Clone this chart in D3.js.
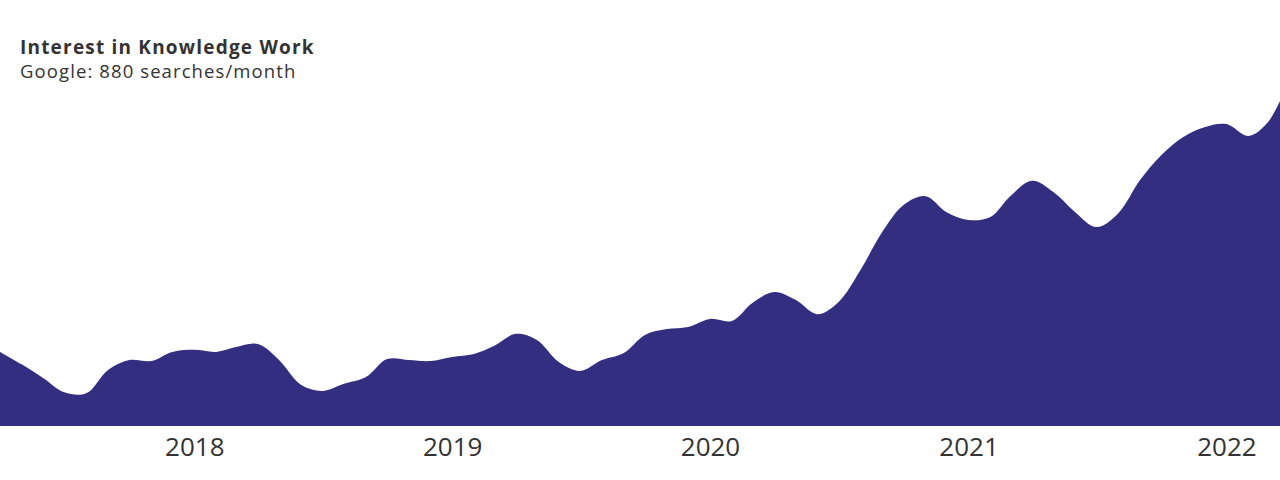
<!DOCTYPE html>
<html>
<head>
<meta charset="utf-8">
<script src="https://cdn.jsdelivr.net/npm/d3@7"></script>
<style>
  body { margin: 0; background: #fff; }
  #chart svg { display: block; }
</style>
</head>
<body>
<div id="chart"></div>
<script>
// monthly search interest, starting April 2017
const startMonth = "2017-04";
const interest = [
  21.8, 18.2, 14.1, 9.9, 9.6, 16.5, 19.4, 19.1, 21.8, 22.4, 21.8, 23.2,
  24.1, 19.4, 12.1, 10.3, 12.4, 14.4, 19.7, 19.4, 19.1, 20.3, 21.2, 23.5,
  27.1, 25.3, 18.8, 16.2, 19.4, 21.5, 26.8, 28.5, 29.1, 31.5, 30.9, 36.2,
  39.4, 37.1, 32.9, 36.5, 45.9, 57.1, 65.0, 67.6, 62.9, 60.6, 61.5, 67.6,
  72.1, 68.8, 62.9, 58.5, 62.6, 72.4, 79.7, 85.0, 87.9, 88.8, 85.3, 89.4,
  102.4
];
const tickYears = ["2018", "2019", "2020", "2021", "2022"];
const title = "Interest in Knowledge Work";
const subtitle = "Google: 880 searches/month";

(function() {
const width = 1280, height = 480;
const baseline = 426;

const parseMonth = d3.timeParse("%Y-%m");
const parseYear = d3.timeParse("%Y");
const start = parseMonth(startMonth);
const data = interest.map((v, i) => ({ date: d3.timeMonth.offset(start, i), value: v }));

let svg = d3.select("#chart")
  .append("svg")
    .attr("width", width)
    .attr("height", height);

// x: one month ~21.5px, last point sits just past the right edge
let x = d3.scaleTime()
  .domain(d3.extent(data, d => d.date))
  .range([0, 1290]);

let y = d3.scaleLinear()
  .domain([0, 100])
  .range([baseline, 86]);

let area = d3.area()
  .x(d => x(d.date))
  .y0(baseline)
  .y1(d => y(d.value))
  .curve(d3.curveCatmullRom.alpha(0.5));

svg.append("path")
  .datum(data)
  .attr("fill", "#332e80")
  .attr("d", area);

// year axis, labels only
let axis = svg.append("g")
  .attr("transform", "translate(0," + baseline + ")")
  .call(d3.axisBottom(x)
    .tickValues(tickYears.map(parseYear))
    .tickFormat(d3.timeFormat("%Y"))
    .tickSize(0)
    .tickPadding(12));
axis.select(".domain").remove();
axis.selectAll("text")
  .attr("fill", "#333")
  .style("font-family", "'Open Sans', sans-serif")
  .style("font-size", "26px")
  .attr("dy", "0.68em");

// title block
svg.append("text")
  .attr("x", 20)
  .attr("y", 54)
  .attr("fill", "#333")
  .style("font-family", "'Open Sans', sans-serif")
  .style("font-weight", "bold")
  .style("font-size", "19px")
  .style("letter-spacing", "1.2px")
  .text(title);

svg.append("text")
  .attr("x", 20)
  .attr("y", 78)
  .attr("fill", "#333")
  .style("font-family", "'Open Sans', sans-serif")
  .style("font-size", "18.5px")
  .style("letter-spacing", "1.1px")
  .text(subtitle);
})();
</script>
</body>
</html>
